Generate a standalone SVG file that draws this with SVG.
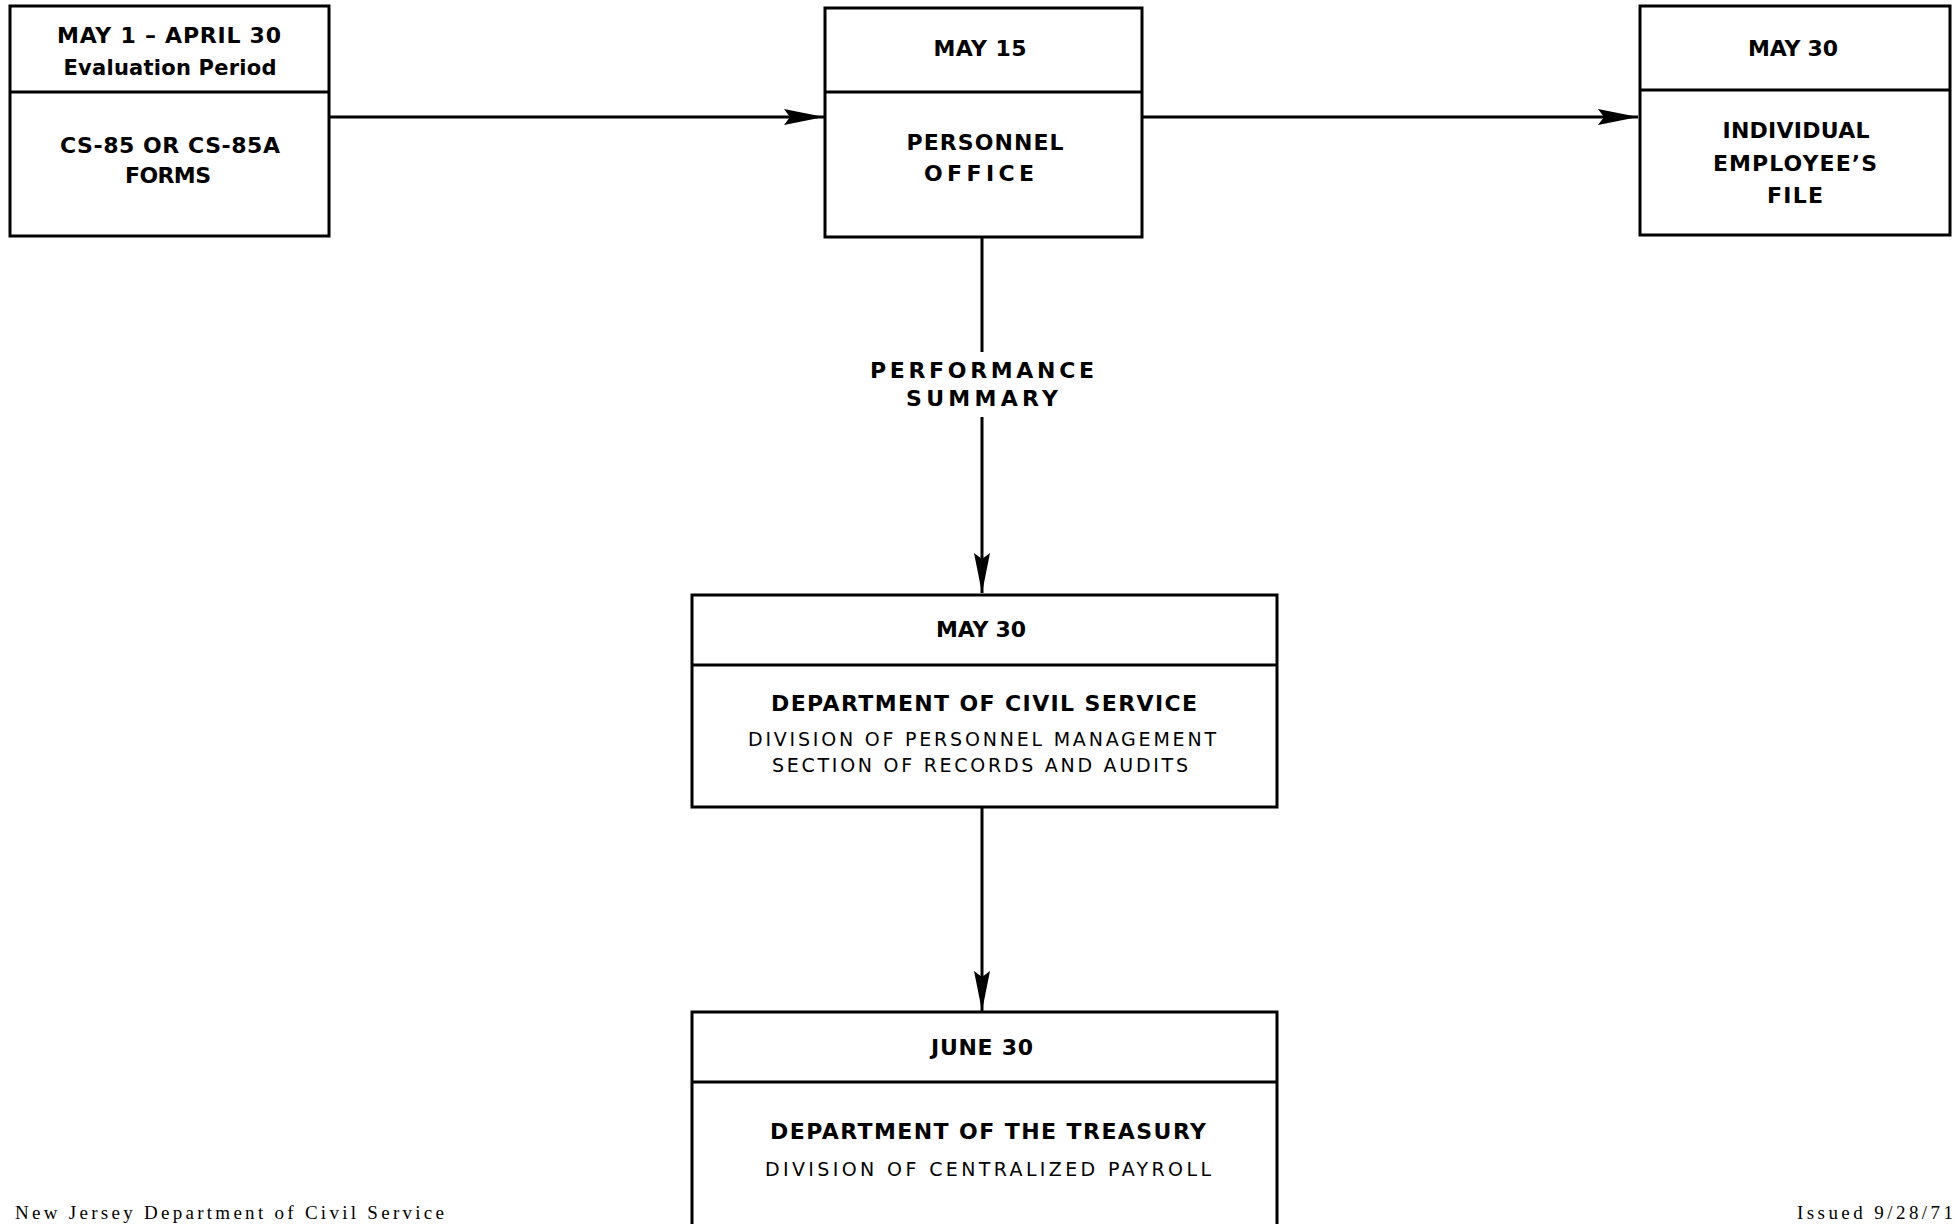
<svg xmlns="http://www.w3.org/2000/svg" width="1959" height="1224" viewBox="0 0 1959 1224">
<style>
.box{fill:#fff;stroke:#000;stroke-width:3}
.div{stroke:#000;stroke-width:3}
.t{font-family:"DejaVu Sans","Liberation Sans",Arial,sans-serif;font-weight:bold;font-size:22px;fill:#000;text-anchor:middle}
.e{font-size:21px}
.s{font-family:"DejaVu Sans","Liberation Sans",Arial,sans-serif;font-size:19px;fill:#000;text-anchor:middle}
.f{font-family:"Liberation Serif","Times New Roman",serif;font-size:19px;fill:#000}
.c{stroke:#000;stroke-width:3;fill:none}
</style>
<defs>
<marker id="arr" markerUnits="userSpaceOnUse" viewBox="0 0 40 16" refX="40" refY="8" markerWidth="40" markerHeight="16" orient="auto">
<path d="M0,0 L40,8 L0,16 L6,8 z" fill="#000"/>
</marker>
</defs>
<rect width="1959" height="1224" fill="#fff"/>
<g id="connectors">
<line class="c" x1="329" y1="117" x2="824" y2="117" marker-end="url(#arr)"/>
<line class="c" x1="1142" y1="117" x2="1638" y2="117" marker-end="url(#arr)"/>
<line class="c" x1="982" y1="237" x2="982" y2="352"/>
<line class="c" x1="982" y1="417" x2="982" y2="593" marker-end="url(#arr)"/>
<text class="t" x="982" y="378" textLength="224" lengthAdjust="spacing">PERFORMANCE</text>
<text class="t" x="982" y="406" textLength="152" lengthAdjust="spacing">SUMMARY</text>
<line class="c" x1="982" y1="807" x2="982" y2="1011" marker-end="url(#arr)"/>
</g>
<g id="node-forms">
<rect class="box" x="10" y="6" width="319" height="230"/>
<line class="div" x1="10" y1="92" x2="329" y2="92"/>
<text class="t" x="169" y="43" textLength="224" lengthAdjust="spacing">MAY 1 – APRIL 30</text>
<text class="t e" x="170" y="75" textLength="213" lengthAdjust="spacing">Evaluation Period</text>
<text class="t" x="170" y="153" textLength="220" lengthAdjust="spacing">CS-85 OR CS-85A</text>
<text class="t" x="168" y="183" textLength="86" lengthAdjust="spacing">FORMS</text>
</g>
<g id="node-personnel">
<rect class="box" x="825" y="8" width="317" height="229"/>
<line class="div" x1="825" y1="92" x2="1142" y2="92"/>
<text class="t" x="980" y="56" textLength="93" lengthAdjust="spacing">MAY 15</text>
<text class="t" x="985" y="150" textLength="157" lengthAdjust="spacing">PERSONNEL</text>
<text class="t" x="979" y="181" textLength="110" lengthAdjust="spacing">OFFICE</text>
</g>
<g id="node-employee-file">
<rect class="box" x="1640" y="6" width="310" height="229"/>
<line class="div" x1="1640" y1="90" x2="1950" y2="90"/>
<text class="t" x="1793" y="56" textLength="90" lengthAdjust="spacing">MAY 30</text>
<text class="t" x="1796" y="138" textLength="147" lengthAdjust="spacing">INDIVIDUAL</text>
<text class="t" x="1795" y="171" textLength="164" lengthAdjust="spacing">EMPLOYEE’S</text>
<text class="t" x="1795" y="203" textLength="56" lengthAdjust="spacing">FILE</text>
</g>
<g id="node-civil-service">
<rect class="box" x="692" y="595" width="585" height="212"/>
<line class="div" x1="692" y1="665" x2="1277" y2="665"/>
<text class="t" x="981" y="637" textLength="90" lengthAdjust="spacing">MAY 30</text>
<text class="t" x="984" y="711" textLength="426" lengthAdjust="spacing">DEPARTMENT OF CIVIL SERVICE</text>
<text class="s" x="982" y="746" textLength="468" lengthAdjust="spacing">DIVISION OF PERSONNEL MANAGEMENT</text>
<text class="s" x="980" y="772" textLength="416" lengthAdjust="spacing">SECTION OF RECORDS AND AUDITS</text>
</g>
<g id="node-treasury">
<path class="box" d="M692,1230 V1012 H1277 V1230"/>
<line class="div" x1="692" y1="1082" x2="1277" y2="1082"/>
<text class="t" x="982" y="1055" textLength="102" lengthAdjust="spacing">JUNE 30</text>
<text class="t" x="988" y="1139" textLength="436" lengthAdjust="spacing">DEPARTMENT OF THE TREASURY</text>
<text class="s" x="988" y="1176" textLength="446" lengthAdjust="spacing">DIVISION OF CENTRALIZED PAYROLL</text>
</g>
<g id="footer">
<text class="f" x="15" y="1219" textLength="429" lengthAdjust="spacing">New Jersey Department of Civil Service</text>
<text class="f" x="1797" y="1219" textLength="156" lengthAdjust="spacing">Issued 9/28/71</text>
</g>
</svg>
